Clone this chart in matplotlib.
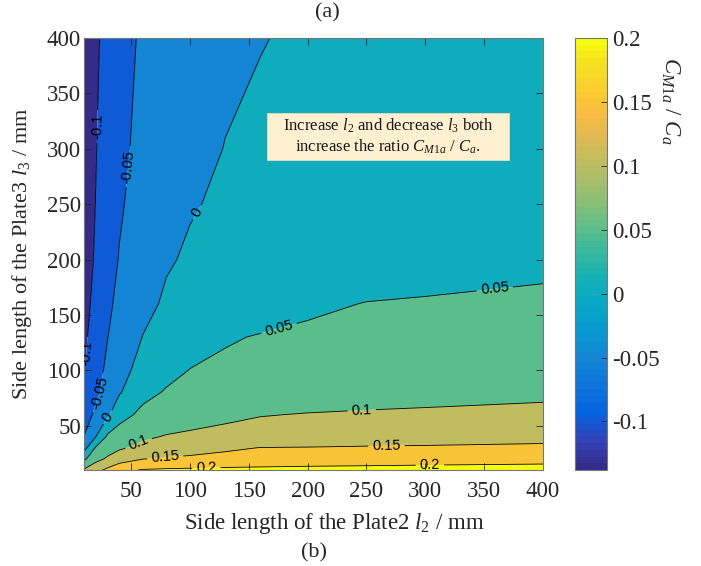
import numpy as np
import matplotlib
matplotlib.use("Agg")
import matplotlib.pyplot as plt
from matplotlib.colors import LinearSegmentedColormap, Normalize
from matplotlib.cm import ScalarMappable
from matplotlib.patches import Rectangle

plt.rcParams['font.family'] = ['Liberation Serif', 'DejaVu Serif']
plt.rcParams['mathtext.fontset'] = 'custom'
plt.rcParams['mathtext.rm'] = 'Liberation Serif'
plt.rcParams['mathtext.it'] = 'Liberation Serif:italic'
plt.rcParams['contour.negative_linestyle'] = 'solid'

# plate side lengths, mm
l2 = np.array([10, 20, 30, 40, 60, 80, 100, 130, 160, 200, 250, 300, 400])
l3 = np.array([10, 20, 30, 40, 60, 80, 100, 130, 160, 200, 250, 300, 400])

# C_M1a / C_a, one row per l3 value
ratio = np.array([
    [0.105, 0.136, 0.160, 0.188, 0.203, 0.206, 0.208, 0.211, 0.213, 0.215, 0.217, 0.219, 0.222],
    [0.041, 0.084, 0.107, 0.125, 0.149, 0.155, 0.158, 0.163, 0.166, 0.170, 0.173, 0.176, 0.181],
    [-0.019, 0.055, 0.078, 0.094, 0.112, 0.123, 0.132, 0.143, 0.151, 0.152, 0.154, 0.155, 0.157],
    [-0.049, -0.001, 0.058, 0.072, 0.093, 0.103, 0.108, 0.114, 0.119, 0.123, 0.128, 0.132, 0.139],
    [-0.074, -0.040, -0.008, 0.033, 0.061, 0.072, 0.080, 0.090, 0.098, 0.102, 0.105, 0.107, 0.110],
    [-0.091, -0.060, -0.032, -0.004, 0.037, 0.054, 0.059, 0.065, 0.070, 0.076, 0.081, 0.085, 0.092],
    [-0.102, -0.067, -0.041, -0.016, 0.016, 0.037, 0.051, 0.056, 0.061, 0.065, 0.070, 0.074, 0.080],
    [-0.109, -0.079, -0.051, -0.029, 0.001, 0.018, 0.031, 0.047, 0.052, 0.056, 0.059, 0.062, 0.066],
    [-0.114, -0.088, -0.059, -0.039, -0.012, 0.006, 0.015, 0.026, 0.034, 0.044, 0.051, 0.053, 0.055],
    [-0.120, -0.095, -0.067, -0.048, -0.024, -0.004, 0.005, 0.012, 0.018, 0.024, 0.030, 0.035, 0.044],
    [-0.126, -0.099, -0.073, -0.055, -0.032, -0.016, -0.003, 0.006, 0.010, 0.015, 0.020, 0.025, 0.032],
    [-0.131, -0.102, -0.078, -0.060, -0.038, -0.024, -0.013, 0.001, 0.005, 0.010, 0.014, 0.017, 0.022],
    [-0.138, -0.107, -0.085, -0.063, -0.045, -0.032, -0.022, -0.009, -0.001, 0.004, 0.006, 0.007, 0.008],
])

levels = [-0.1, -0.05, 0.0, 0.05, 0.1, 0.15, 0.2]
level_labels = ['-0.1', '-0.05', '0', '0.05', '0.1', '0.15', '0.2']
axis_ticks = [50, 100, 150, 200, 250, 300, 350, 400]
c_min, c_max = -0.138, 0.2

# parula-like colormap
parula_pts = [
    [0.2081, 0.1663, 0.5292], [0.1959, 0.2645, 0.7279], [0.0117, 0.3875, 0.8820],
    [0.0498, 0.4586, 0.8641], [0.0793, 0.5200, 0.8312], [0.0343, 0.5966, 0.8199],
    [0.0228, 0.6535, 0.7768], [0.0843, 0.6928, 0.7062], [0.2178, 0.7250, 0.6193],
    [0.3953, 0.7459, 0.5244], [0.5709, 0.7485, 0.4494], [0.7184, 0.7411, 0.3905],
    [0.8507, 0.7299, 0.3360], [0.9739, 0.7314, 0.2666], [0.9880, 0.8066, 0.1794],
    [0.9589, 0.8949, 0.1132], [0.9763, 0.9831, 0.0538]]
stops = [i * 4 / 63 for i in range(16)] + [1.0]
parula = LinearSegmentedColormap.from_list('parula', list(zip(stops, parula_pts)), N=64)
norm = Normalize(vmin=c_min, vmax=c_max)

# each band takes the colour of its lower bound
fill_levels = [-1.0] + levels + [1.0]
band_colors = [parula(norm(v)) for v in [c_min] + levels]

fig = plt.figure(figsize=(7.01, 5.66), dpi=100)
ax = fig.add_axes([84 / 701, 1 - 470 / 566, 459 / 701, 432 / 566])

ax.contourf(l2, l3, ratio, levels=fill_levels, colors=band_colors, antialiased=True)
lines = ax.contour(l2, l3, ratio, levels=levels, colors='k', linewidths=0.6)

label_xy = [(23, 320), (14, 115), (46, 284), (25, 79), (107, 242), (31, 57),
            (174, 144), (359, 174), (56, 35), (246, 64), (79, 22), (267, 31),
            (114, 11), (304, 14)]
fmt = dict(zip(lines.levels, level_labels))
with plt.rc_context({'font.family': ['Liberation Sans', 'DejaVu Sans']}):
    texts = ax.clabel(lines, fmt=fmt, manual=label_xy, fontsize=10.5, inline=True,
                      inline_spacing=4)
for t in texts:
    t.set_clip_on(True)

ax.set_xlim(10, 400)
ax.set_ylim(10, 400)
ax.set_xticks(axis_ticks)
ax.set_yticks(axis_ticks)
ax.tick_params(direction='in', length=5, width=0.6, top=True, right=True,
               labelsize=16.5, colors='#262626')
ax.tick_params(axis='x', pad=8)
ax.tick_params(axis='y', pad=2)
for s in ax.spines.values():
    s.set_color('#777777')
    s.set_linewidth(0.8)

ax.set_xlabel(r'Side length of the Plate2 $l_2$ / mm', fontsize=16.5, color='#262626')
ax.set_ylabel(r'Side length of the Plate3 $l_3$ / mm', fontsize=16, color='#262626')
ax.xaxis.set_label_coords(0.545, -0.095)
ax.yaxis.set_label_coords(-0.11, 0.5)

# note box
ax.add_patch(Rectangle(((267 - 84) / 459, (470 - 160) / 432), 242 / 459, 47 / 432,
                       transform=ax.transAxes, facecolor='#fdf0d0', edgecolor='#eadcb8',
                       linewidth=0.6, zorder=5))
ax.text((388 - 84) / 459, (470 - 136.5) / 432,
        'Increase $l_2$ and decrease $l_3$ both\nincrease the ratio $C_{M1a}$ / $C_a$.',
        transform=ax.transAxes, ha='center', va='center', fontsize=12,
        linespacing=1.15, color='#1a1a1a', zorder=6)

# colorbar
cax = fig.add_axes([575 / 701, 1 - 470 / 566, 32 / 701, 432 / 566])
cb = fig.colorbar(ScalarMappable(norm=norm, cmap=parula), cax=cax, ticks=levels)
cb.ax.set_yticklabels(level_labels)
cb.ax.tick_params(direction='in', length=4, width=0.6, labelsize=16.5, colors='#262626', pad=4)
cb.outline.set_edgecolor('#777777')
cb.outline.set_linewidth(0.8)
fig.text(670 / 701, 1 - 101 / 566, r'$C_{M1a}$ / $C_a$', rotation=-90,
         ha='center', va='center', fontsize=16.5, color='#262626')

fig.text(327 / 701, 1 - 13 / 566, '(a)', ha='center', va='center', fontsize=16, color='#262626')
fig.text(314 / 701, 1 - 553 / 566, '(b)', ha='center', va='center', fontsize=16, color='#262626')

fig.savefig('out.png', dpi=100)
